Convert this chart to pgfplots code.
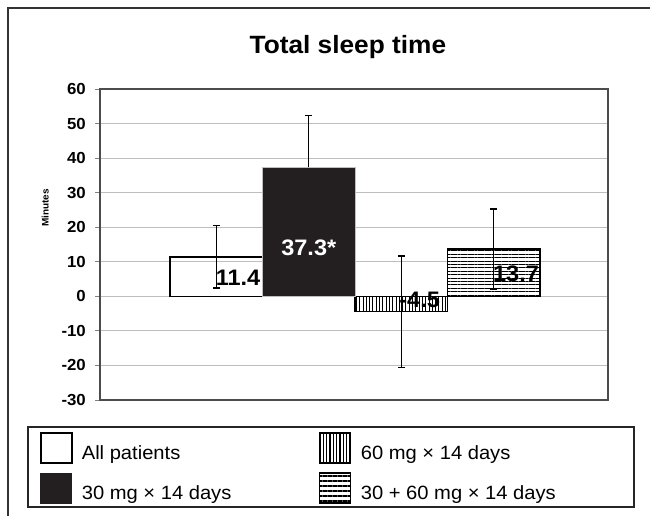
\documentclass[border=0pt]{standalone}
\usepackage{fontspec}
\setmainfont{Liberation Sans}[FakeStretch=1.05]
\usepackage{pgfplots}
\pgfplotsset{compat=1.18}
\usetikzlibrary{patterns.meta}
\definecolor{barblack}{HTML}{231F20}
\definecolor{gridgray}{HTML}{BEBEBE}
\definecolor{framegray}{HTML}{333333}
\begin{document}
\begin{tikzpicture}[x=1pt,y=1pt]
\useasboundingbox (0,0) rectangle (650,516);
\draw[framegray, line width=2.2pt] (8,0) -- (8,508) -- (650,508);
\draw[black!85, line width=1.8pt] (28,9) rectangle (634,89);
\begin{axis}[
  at={(100pt,116pt)}, anchor=south west,
  scale only axis, width=508pt, height=311pt,
  xmin=-0.257, xmax=5.235,
  ymin=-30, ymax=60,
  ytick={-30,-20,...,60},
  xtick=\empty,
  ymajorgrids,
  grid style={gridgray, line width=0.9pt},
  axis line style={black!70, line width=1.1pt},
  tick align=outside, ytick pos=left,
  major tick length=5pt,
  ytick style={gray, line width=0.8pt},
  /pgf/number format/assume math mode=true,
  yticklabel style={font=\fontsize{16}{16}\selectfont\bfseries, inner sep=0pt, xshift=-9pt},
  ylabel={Minutes},
  ylabel style={at={(axis description cs:-0.108,0.617)}, anchor=center, font=\fontsize{9.5}{9.5}\selectfont\bfseries},
  title={Total sleep time},
  title style={at={(axis description cs:0.488,1)}, anchor=base, yshift=29pt, font=\fontsize{25}{25}\selectfont\bfseries},
  legend columns=2,
  legend cell align=left,
  legend style={at={(axis description cs:-0.1181,-0.1029)}, anchor=north west, draw=none, fill=none, inner sep=0pt, outer sep=0pt, row sep=8pt, nodes={inner sep=0pt}, font=\fontsize{19.2}{19.2}\selectfont, /tikz/every odd column/.append style={column sep=9pt}, /tikz/every even column/.append style={column sep=87pt}},
  error bars/error bar style={black, line width=1.2pt},
  error bars/error mark options={rotate=90, mark size=3.5pt, black, line width=1.2pt},
]
% All patients
\addplot[ybar, bar width=1, bar shift=0pt, draw=black, line width=1.2pt, fill=none,
  legend image code/.code={\draw[black, line width=1.8pt, fill=white] (0pt,-10pt) rectangle (31pt,20pt);},
  error bars/.cd, y dir=both, y explicit] coordinates {(1,11.4) +- (0,9.0)};
\addlegendentry{All patients}
% 60 mg
\addplot[ybar, bar width=1, bar shift=0pt, draw=black, line width=1.2pt,
  pattern={Lines[angle=90,distance=3.3pt,line width=0.9pt]},
  legend image code/.code={\draw[black, line width=1.2pt, pattern={Lines[angle=90,distance=3.3pt,line width=1.4pt]}] (0pt,-10pt) rectangle (31pt,20pt);},
  error bars/.cd, y dir=both, y explicit] coordinates {(3,-4.5) +- (0,16.2)};
\addlegendentry{60 mg × 14 days}
% 30 mg
\addplot[ybar, bar width=1, bar shift=0pt, draw=black!25, line width=1pt, fill=barblack,
  legend image code/.code={\draw[barblack, line width=1pt, fill=barblack] (0pt,-10pt) rectangle (31pt,20pt);},
  error bars/.cd, y dir=plus, y explicit] coordinates {(2,37.3) +- (0,15.1)};
\addlegendentry{30 mg × 14 days}
% 30 + 60 mg
\addplot[ybar, bar width=1, bar shift=0pt, draw=black, line width=1.2pt,
  pattern={Lines[angle=0,distance=3.4pt,line width=0.9pt]},
  legend image code/.code={\draw[black, line width=1.2pt, pattern={Lines[angle=0,distance=5pt,line width=2.4pt]}] (0pt,-10pt) rectangle (31pt,20pt);},
  error bars/.cd, y dir=both, y explicit] coordinates {(4,13.7) +- (0,11.6)};
\addlegendentry{30 + 60 mg × 14 days}
\node[anchor=base east, inner sep=0pt, font=\fontsize{22.4}{22.4}\selectfont\bfseries] at (axis cs:1.478,3.2) {11.4};
\node[anchor=base, inner sep=0pt, text=white, font=\fontsize{22.4}{22.4}\selectfont\bfseries] at (axis cs:2,11.9) {37.3*};
\node[anchor=base east, inner sep=0pt, font=\fontsize{22.4}{22.4}\selectfont\bfseries] at (axis cs:3.42,-3.2) {-4.5};
\node[anchor=base east, inner sep=0pt, font=\fontsize{22.4}{22.4}\selectfont\bfseries] at (axis cs:4.49,4.3) {13.7};
\end{axis}
\end{tikzpicture}
\end{document}
